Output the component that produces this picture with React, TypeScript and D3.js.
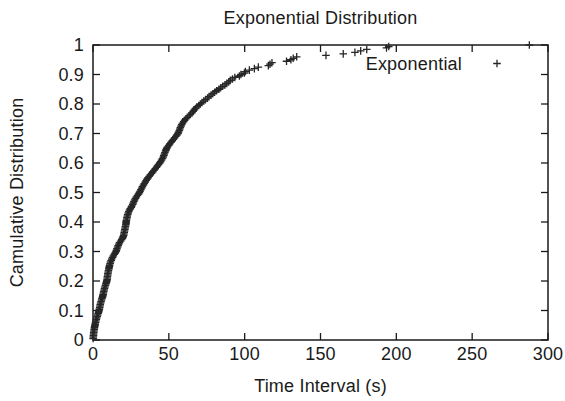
import React from "react";
import * as d3 from "d3";

const title = "Exponential Distribution";
const xLabel = "Time Interval (s)";
const yLabel = "Camulative Distribution";
const seriesName = "Exponential";

const xTicks = [0, 50, 100, 150, 200, 250, 300];
const yTicks = [0, 0.1, 0.2, 0.3, 0.4, 0.5, 0.6, 0.7, 0.8, 0.9, 1];

const intervals = [
  0.1, 0.2, 0.3, 0.4, 0.5, 0.6, 0.8, 0.9, 1.1, 1.3,
  1.5, 1.7, 1.9, 2.2, 2.5, 2.8, 3.1, 3.4, 3.7, 4.0,
  4.2, 4.4, 4.6, 4.8, 5.0, 5.3, 5.6, 5.9, 6.2, 6.5,
  6.7, 6.9, 7.1, 7.4, 7.6, 7.9, 8.2, 8.5, 8.8, 9.1,
  9.3, 9.4, 9.5, 9.7, 9.8, 10.0, 10.2, 10.4, 10.6, 10.8,
  11.0, 11.3, 11.6, 12.0, 12.4, 12.9, 13.4, 14.0, 14.6, 15.2,
  15.5, 15.8, 16.2, 16.6, 17.0, 17.5, 18.2, 18.9, 19.4, 19.9,
  20.2, 20.4, 20.6, 20.8, 21.0, 21.2, 21.4, 21.6, 21.8, 21.8,
  22.0, 22.2, 22.4, 22.6, 22.9, 23.2, 23.6, 24.0, 24.6, 25.2,
  25.7, 26.2, 26.6, 27.0, 27.5, 28.0, 28.6, 29.3, 30.0, 30.6,
  31.1, 31.6, 32.1, 32.6, 33.2, 33.8, 34.4, 35.0, 35.6, 36.3,
  37.0, 37.8, 38.6, 39.4, 40.2, 41.0, 41.8, 42.5, 43.2, 44.0,
  44.6, 45.2, 45.8, 46.3, 46.7, 47.0, 47.4, 47.8, 48.2, 48.6,
  49.2, 49.9, 50.6, 51.4, 52.2, 53.0, 53.8, 54.6, 55.3, 56.0,
  56.4, 56.9, 57.2, 57.6, 58.0, 58.5, 59.0, 59.8, 60.4, 61.2,
  62.2, 63.3, 64.2, 65.2, 66.0, 66.8, 67.5, 68.4, 69.8, 70.8,
  71.8, 73.0, 74.2, 75.5, 76.5, 77.8, 79.0, 80.2, 81.5, 83.0,
  84.2, 85.5, 87.0, 88.2, 89.5, 90.5, 92.0, 93.5, 96.5, 97.5,
  99.8, 100.5, 103.1, 106.4, 109.0, 115.6, 116.7, 118.0, 127.6, 130.5,
  132.0, 134.3, 153.6, 165.0, 172.7, 176.5, 180.5, 193.5, 195.0, 287.7,
];

const W = 565;
const H = 401;
const FONT = "'Liberation Sans', Arial, Helvetica, sans-serif";
const INK = "#1a1a1a";

export default function App() {
  const n = intervals.length;
  const points = intervals.map((v, i) => ({ x: v, y: (i + 1) / n }));

  const x = d3.scaleLinear().domain([0, 300]).range([93, 548]);
  const y = d3.scaleLinear().domain([0, 1]).range([340, 45]);
  const [x0, x1] = x.range();
  const [y0, y1] = y.range();
  const tl = 7;
  const fs = 18;
  const ls = "0.2px";
  const plus = (cx: number, cy: number) =>
    `M${cx - 3.8},${cy}H${cx + 3.8}M${cx},${cy - 3.8}V${cy + 3.8}`;

  return (
    <svg
      width={W}
      height={H}
      style={{ position: "absolute", left: 0, top: 0, background: "#fff" }}
      fontFamily={FONT}
    >
      <rect x={0} y={0} width={W} height={H} fill="#fff" />
      {/* ticks */}
      {xTicks.map((t) => (
        <g key={"xt" + t}>
          <line x1={x(t)} x2={x(t)} y1={y0} y2={y0 - tl} stroke={INK} strokeWidth={1.3} />
          <line x1={x(t)} x2={x(t)} y1={y1} y2={y1 + tl} stroke={INK} strokeWidth={1.3} />
          <text x={x(t)} y={360} textAnchor="middle" fontSize={fs} fill={INK} letterSpacing={ls}>
            {t}
          </text>
        </g>
      ))}
      {yTicks.map((t) => (
        <g key={"yt" + t}>
          <line x1={x0} x2={x0 + tl} y1={y(t)} y2={y(t)} stroke={INK} strokeWidth={1.3} />
          <line x1={x1} x2={x1 - tl} y1={y(t)} y2={y(t)} stroke={INK} strokeWidth={1.3} />
          <text x={84} y={y(t)} dy="0.36em" textAnchor="end" fontSize={fs} fill={INK} letterSpacing={ls}>
            {d3.format("~g")(t)}
          </text>
        </g>
      ))}
      {/* frame */}
      <rect
        x={x0}
        y={y1}
        width={x1 - x0}
        height={y0 - y1}
        fill="none"
        stroke={INK}
        strokeWidth={1.5}
      />
      {/* points */}
      <path
        d={points.map((p) => plus(x(p.x), y(p.y))).join("")}
        stroke="#262626"
        strokeWidth={1.3}
        fill="none"
      />
      {/* legend */}
      <text x={462} y={69.5} textAnchor="end" fontSize={fs} fill={INK} letterSpacing={ls}>
        {seriesName}
      </text>
      <path d={plus(497, 63.5)} stroke="#262626" strokeWidth={1.3} fill="none" />
      {/* titles */}
      <text x={(x0 + x1) / 2} y={24} textAnchor="middle" fontSize={fs} fill={INK} letterSpacing={ls}>
        {title}
      </text>
      <text x={(x0 + x1) / 2} y={392} textAnchor="middle" fontSize={fs} fill={INK} letterSpacing={ls}>
        {xLabel}
      </text>
      <text
        transform={`translate(23,${(y0 + y1) / 2}) rotate(-90)`}
        textAnchor="middle"
        fontSize={fs}
        fill={INK}
        letterSpacing={ls}
      >
        {yLabel}
      </text>
    </svg>
  );
}
